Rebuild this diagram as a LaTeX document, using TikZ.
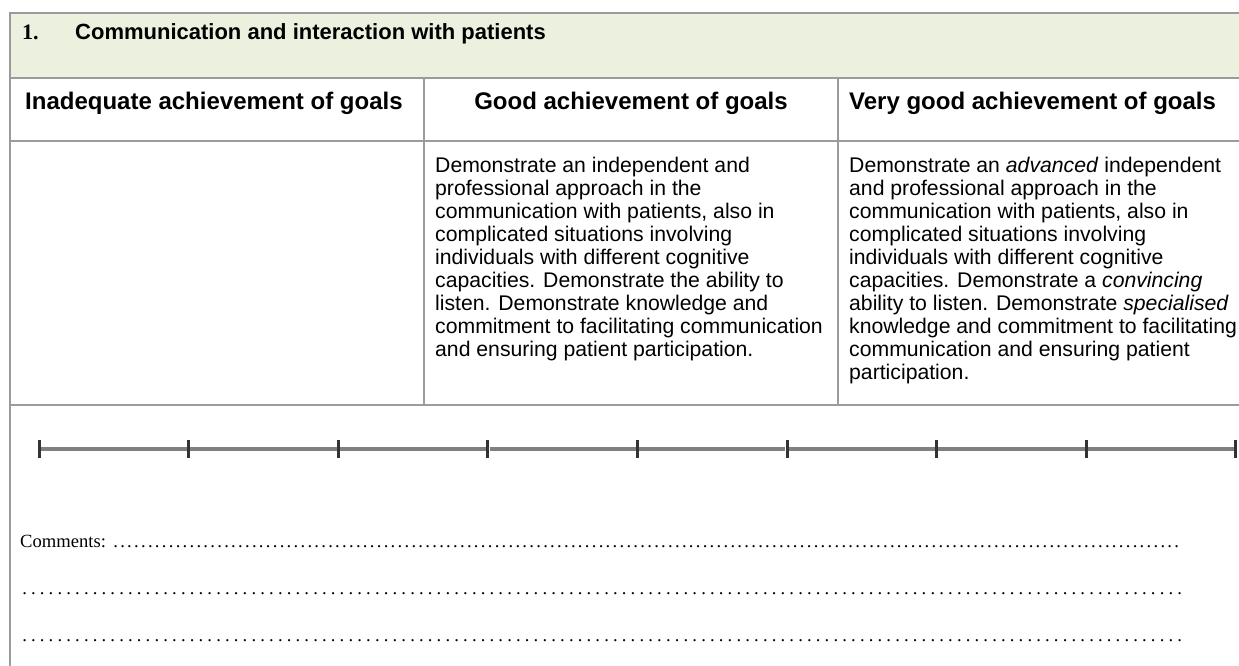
\documentclass[tikz,border=0pt]{standalone}
\usepackage{fontspec}
\setmainfont{Liberation Sans}
\newfontfamily\timesfont{Liberation Serif}
\usetikzlibrary{positioning}
\definecolor{titlegreen}{RGB}{235,241,222}
\definecolor{rulegray}{RGB}{155,155,155}
\newcommand{\dotline}[3]{\makebox[#1][l]{#3\xleaders\hbox to #2{\hss.\hss}\hfill}}

\begin{document}
\begin{tikzpicture}[x=1pt,y=-1pt]

			\tikzstyle{cell}=[draw=rulegray,line width=1.5pt,
				inner sep=0pt,outer sep=0pt,
				minimum width=414pt,anchor=north west]
			\tikzstyle{headcell}=[cell,minimum height=63pt]
			\tikzstyle{bodycell}=[cell,minimum height=264pt]
			\tikzstyle{headtext}=[inner sep=0pt,anchor=base west,
				font=\fontsize{24}{28}\selectfont\bfseries]
			\tikzstyle{bodytext}=[inner sep=0pt,anchor=north west,
				align=left,font=\fontsize{21.2}{23}\selectfont]
			\tikzstyle{tick}=[fill=black!80,inner sep=0pt,
				minimum width=3pt,minimum height=18pt]
			\tikzstyle{scaleline}=[black!50,line width=3.5pt]
			\tikzstyle{commenttext}=[inner sep=0pt,anchor=base west,
				font=\timesfont\fontsize{18.6}{20}\selectfont]

			\useasboundingbox (0,0) rectangle (1239,666);

			\node[cell,fill=titlegreen,minimum width=1250pt,minimum height=65pt] (title) at (10,13) {};
			\node[headcell,below right=0pt of title.south west]	(h1)	{};
			\node[headcell,right=0pt of h1]	(h2)	{};
			\node[headcell,right=0pt of h2]	(h3)	{};
			\node[bodycell,below=0pt of h1]	(b1)	{};
			\node[bodycell,below=0pt of h2]	(b2)	{};
			\node[bodycell,below=0pt of h3]	(b3)	{};
			\node[cell,minimum width=1250pt,minimum height=300pt,
				below right=0pt of b1.south west]	(rating)	{};

			\node[headtext,font=\timesfont\fontsize{22}{26}\selectfont\bfseries]
				(num) at ([xshift=12pt,yshift=-27pt]title.north west) {1.};
			\node[headtext,font=\fontsize{22}{26}\selectfont\bfseries]
				(titletext) at ([xshift=65pt,yshift=-27pt]title.north west)
				{Communication and interaction with patients};

			\node[headtext] (h1text) at ([xshift=15pt,yshift=-32pt]h1.north west)
				{Inadequate achievement of goals};
			\node[headtext,anchor=base] (h2text) at ([yshift=-32pt]h2.north)
				{Good achievement of goals};
			\node[headtext] (h3text) at ([xshift=11pt,yshift=-32pt]h3.north west)
				{Very good achievement of goals};

			\node[bodytext] (b2text) at ([xshift=11pt,yshift=-16pt]b2.north west)
				{Demonstrate an independent and\\
				professional approach in the\\
				communication with patients, also in\\
				complicated situations involving\\
				individuals with different cognitive\\
				capacities. Demonstrate the ability to\\
				listen. Demonstrate knowledge and\\
				commitment to facilitating communication\\
				and ensuring patient participation.};
			\node[bodytext] (b3text) at ([xshift=11pt,yshift=-16pt]b3.north west)
				{Demonstrate an \textit{advanced} independent\\
				and professional approach in the\\
				communication with patients, also in\\
				complicated situations involving\\
				individuals with different cognitive\\
				capacities. Demonstrate a \textit{convincing}\\
				ability to listen. Demonstrate \textit{specialised}\\
				knowledge and commitment to facilitating\\
				communication and ensuring patient\\
				participation.};

			\foreach \i in {0,...,8}
				\node[tick] (tick\i) at (39+149.6*\i,449) {};
			\foreach \i [remember=\i as \k (initially 0)] in {1,...,8}
				\draw[scaleline] (tick\k) -- (tick\i);

			\node[commenttext] (comment1) at ([xshift=10pt,yshift=-142pt]rating.north west)
				{\dotline{1160pt}{6.9pt}{Comments: }};
			\node[commenttext] (comment2) at ([xshift=10pt,yshift=-189pt]rating.north west)
				{\dotline{1164pt}{8.8pt}{}};
			\node[commenttext] (comment3) at ([xshift=10pt,yshift=-236pt]rating.north west)
				{\dotline{1164pt}{8.8pt}{}};

\end{tikzpicture}
\end{document}
